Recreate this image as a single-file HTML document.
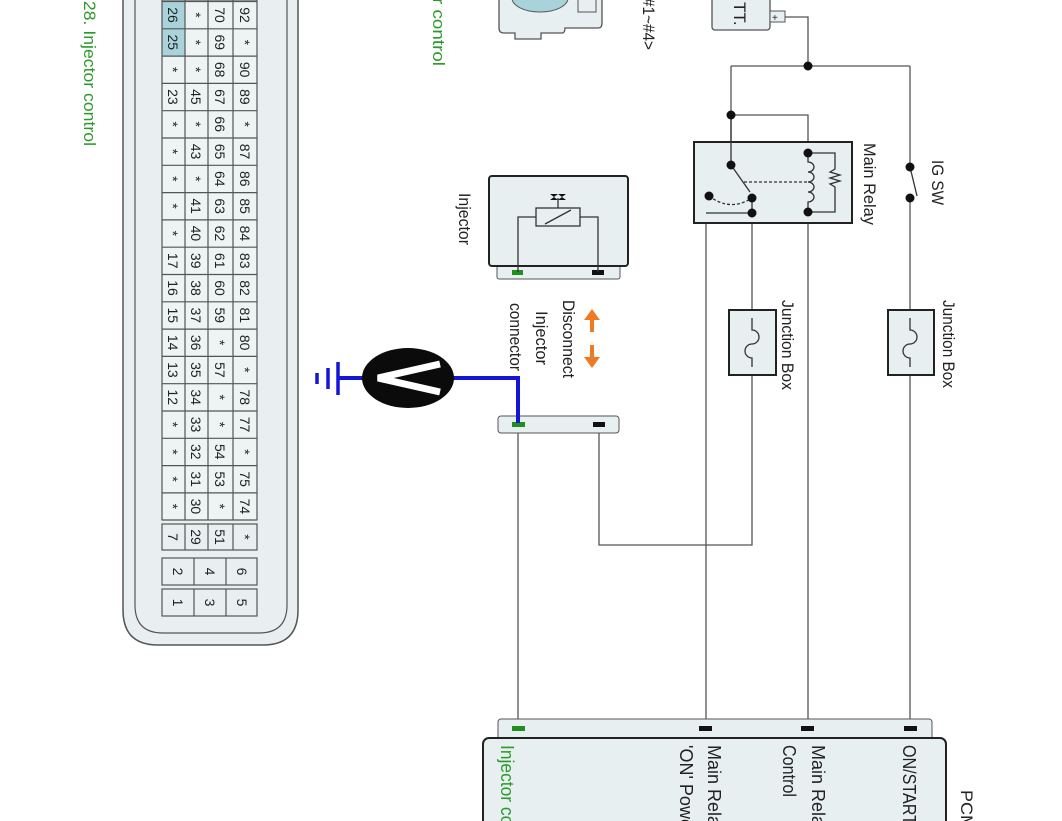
<!DOCTYPE html>
<html><head><meta charset="utf-8"><style>
html,body{margin:0;padding:0;background:#fff;}
svg{display:block;font-family:"Liberation Sans",sans-serif;}
</style></head><body>
<svg width="1062" height="821" viewBox="0 0 1062 821" xmlns="http://www.w3.org/2000/svg">
<path d="M123,0 V610 Q123,645 158,645 H263 Q298,645 298,610 V0" fill="#e9eff1" stroke="#555" stroke-width="1.5"/>
<path d="M135,0 V605 Q135,633 163,633 H259 Q287,633 287,605 V0" fill="none" stroke="#555" stroke-width="1.2"/>
<rect x="162" y="0" width="95" height="520" fill="#eef3f4" stroke="#555"/>
<rect x="162" y="1.5" width="23" height="54.6" fill="#a9d3da"/>
<g stroke="#555" stroke-width="1.2" fill="none">
<path d="M162,0V520M185,0V520M208,0V520M233,0V520M257,0V520"/>
<path d="M162,1.5H257M162,28.8H257M162,56.1H257M162,83.4H257M162,110.7H257M162,138H257M162,165.3H257M162,192.6H257M162,219.9H257M162,247.2H257M162,274.5H257M162,301.8H257M162,329.1H257M162,356.4H257M162,383.7H257M162,411H257M162,438.3H257M162,465.6H257M162,492.9H257M162,520H257"/>
<rect x="162" y="524" width="95" height="26"/>
<path d="M185,524V550M208,524V550M233,524V550"/>
<rect x="162" y="558" width="95" height="27"/>
<path d="M194,558V585M226,558V585"/>
<rect x="162" y="589" width="95" height="27"/>
<path d="M194,589V616M226,589V616"/>
</g>
<g font-size="14" fill="#222" text-anchor="middle">
<g transform="translate(168,15) rotate(90)"><text>26</text></g><g transform="translate(191,15) rotate(90)"><text>*</text></g><g transform="translate(215,15) rotate(90)"><text>70</text></g><g transform="translate(240,15) rotate(90)"><text>92</text></g>
<g transform="translate(168,42.3) rotate(90)"><text>25</text></g><g transform="translate(191,42.3) rotate(90)"><text>*</text></g><g transform="translate(215,42.3) rotate(90)"><text>69</text></g><g transform="translate(240,42.3) rotate(90)"><text>*</text></g>
<g transform="translate(168,69.6) rotate(90)"><text>*</text></g><g transform="translate(191,69.6) rotate(90)"><text>*</text></g><g transform="translate(215,69.6) rotate(90)"><text>68</text></g><g transform="translate(240,69.6) rotate(90)"><text>90</text></g>
<g transform="translate(168,96.9) rotate(90)"><text>23</text></g><g transform="translate(191,96.9) rotate(90)"><text>45</text></g><g transform="translate(215,96.9) rotate(90)"><text>67</text></g><g transform="translate(240,96.9) rotate(90)"><text>89</text></g>
<g transform="translate(168,124.2) rotate(90)"><text>*</text></g><g transform="translate(191,124.2) rotate(90)"><text>*</text></g><g transform="translate(215,124.2) rotate(90)"><text>66</text></g><g transform="translate(240,124.2) rotate(90)"><text>*</text></g>
<g transform="translate(168,151.5) rotate(90)"><text>*</text></g><g transform="translate(191,151.5) rotate(90)"><text>43</text></g><g transform="translate(215,151.5) rotate(90)"><text>65</text></g><g transform="translate(240,151.5) rotate(90)"><text>87</text></g>
<g transform="translate(168,178.8) rotate(90)"><text>*</text></g><g transform="translate(191,178.8) rotate(90)"><text>*</text></g><g transform="translate(215,178.8) rotate(90)"><text>64</text></g><g transform="translate(240,178.8) rotate(90)"><text>86</text></g>
<g transform="translate(168,206.1) rotate(90)"><text>*</text></g><g transform="translate(191,206.1) rotate(90)"><text>41</text></g><g transform="translate(215,206.1) rotate(90)"><text>63</text></g><g transform="translate(240,206.1) rotate(90)"><text>85</text></g>
<g transform="translate(168,233.4) rotate(90)"><text>*</text></g><g transform="translate(191,233.4) rotate(90)"><text>40</text></g><g transform="translate(215,233.4) rotate(90)"><text>62</text></g><g transform="translate(240,233.4) rotate(90)"><text>84</text></g>
<g transform="translate(168,260.7) rotate(90)"><text>17</text></g><g transform="translate(191,260.7) rotate(90)"><text>39</text></g><g transform="translate(215,260.7) rotate(90)"><text>61</text></g><g transform="translate(240,260.7) rotate(90)"><text>83</text></g>
<g transform="translate(168,288) rotate(90)"><text>16</text></g><g transform="translate(191,288) rotate(90)"><text>38</text></g><g transform="translate(215,288) rotate(90)"><text>60</text></g><g transform="translate(240,288) rotate(90)"><text>82</text></g>
<g transform="translate(168,315.3) rotate(90)"><text>15</text></g><g transform="translate(191,315.3) rotate(90)"><text>37</text></g><g transform="translate(215,315.3) rotate(90)"><text>59</text></g><g transform="translate(240,315.3) rotate(90)"><text>81</text></g>
<g transform="translate(168,342.6) rotate(90)"><text>14</text></g><g transform="translate(191,342.6) rotate(90)"><text>36</text></g><g transform="translate(215,342.6) rotate(90)"><text>*</text></g><g transform="translate(240,342.6) rotate(90)"><text>80</text></g>
<g transform="translate(168,369.9) rotate(90)"><text>13</text></g><g transform="translate(191,369.9) rotate(90)"><text>35</text></g><g transform="translate(215,369.9) rotate(90)"><text>57</text></g><g transform="translate(240,369.9) rotate(90)"><text>*</text></g>
<g transform="translate(168,397.2) rotate(90)"><text>12</text></g><g transform="translate(191,397.2) rotate(90)"><text>34</text></g><g transform="translate(215,397.2) rotate(90)"><text>*</text></g><g transform="translate(240,397.2) rotate(90)"><text>78</text></g>
<g transform="translate(168,424.5) rotate(90)"><text>*</text></g><g transform="translate(191,424.5) rotate(90)"><text>33</text></g><g transform="translate(215,424.5) rotate(90)"><text>*</text></g><g transform="translate(240,424.5) rotate(90)"><text>77</text></g>
<g transform="translate(168,451.8) rotate(90)"><text>*</text></g><g transform="translate(191,451.8) rotate(90)"><text>32</text></g><g transform="translate(215,451.8) rotate(90)"><text>54</text></g><g transform="translate(240,451.8) rotate(90)"><text>*</text></g>
<g transform="translate(168,479.1) rotate(90)"><text>*</text></g><g transform="translate(191,479.1) rotate(90)"><text>31</text></g><g transform="translate(215,479.1) rotate(90)"><text>53</text></g><g transform="translate(240,479.1) rotate(90)"><text>75</text></g>
<g transform="translate(168,506.4) rotate(90)"><text>*</text></g><g transform="translate(191,506.4) rotate(90)"><text>30</text></g><g transform="translate(215,506.4) rotate(90)"><text>*</text></g><g transform="translate(240,506.4) rotate(90)"><text>74</text></g>
<g transform="translate(168,537) rotate(90)"><text>7</text></g><g transform="translate(191,537) rotate(90)"><text>29</text></g><g transform="translate(215,537) rotate(90)"><text>51</text></g><g transform="translate(240,537) rotate(90)"><text>*</text></g>
<g transform="translate(173,571.5) rotate(90)"><text>2</text></g><g transform="translate(205,571.5) rotate(90)"><text>4</text></g><g transform="translate(237,571.5) rotate(90)"><text>6</text></g>
<g transform="translate(173,602.5) rotate(90)"><text>1</text></g><g transform="translate(205,602.5) rotate(90)"><text>3</text></g><g transform="translate(237,602.5) rotate(90)"><text>5</text></g>
</g>

<g font-size="17">
<g transform="translate(84,-4) rotate(90)"><text fill="#2a9a2a" textLength="150" lengthAdjust="spacingAndGlyphs">.28. Injector control</text></g>
<g transform="translate(433,-2) rotate(90)"><text fill="#2a9a2a" textLength="68" lengthAdjust="spacingAndGlyphs">r control</text></g>
<g transform="translate(643,-2) rotate(90)"><text fill="#222" textLength="52" lengthAdjust="spacingAndGlyphs">#1~#4&gt;</text></g>
<g transform="translate(459,193) rotate(90)"><text fill="#222" textLength="52" lengthAdjust="spacingAndGlyphs">Injector</text></g>
<g transform="translate(563,300) rotate(90)"><text fill="#222" textLength="78" lengthAdjust="spacingAndGlyphs">Disconnect</text></g>
<g transform="translate(536,311) rotate(90)"><text fill="#222" textLength="54" lengthAdjust="spacingAndGlyphs">Injector</text></g>
<g transform="translate(510,303) rotate(90)"><text fill="#222" textLength="68" lengthAdjust="spacingAndGlyphs">connector</text></g>
<g transform="translate(782,300) rotate(90)"><text fill="#222" textLength="90" lengthAdjust="spacingAndGlyphs">Junction Box</text></g>
<g transform="translate(943,300) rotate(90)"><text fill="#222" textLength="88" lengthAdjust="spacingAndGlyphs">Junction Box</text></g>
<g transform="translate(864,143) rotate(90)"><text fill="#222" textLength="82" lengthAdjust="spacingAndGlyphs">Main Relay</text></g>
<g transform="translate(932,160) rotate(90)"><text fill="#222" textLength="45" lengthAdjust="spacingAndGlyphs">IG SW</text></g>
<g transform="translate(961,790) rotate(90)"><text fill="#222" textLength="40" lengthAdjust="spacingAndGlyphs">PCM</text></g>
</g>

<path d="M499,-2 V28 Q499,33 504,33 H515 V39 H541 V33 H562 Q565,33 565,28 H598 Q602,28 602,23 V-2" fill="#e8eff1" stroke="#555" stroke-width="1.3"/>
<ellipse cx="540" cy="-2" rx="28" ry="14" fill="#a9d3da" stroke="#555"/>
<rect x="578" y="-2" width="18" height="14" fill="none" stroke="#555"/>

<rect x="712" y="-5" width="58" height="35" rx="3" fill="#e8eff1" stroke="#555" stroke-width="1.3"/>
<g transform="translate(734,2) rotate(90)"><text font-size="17" fill="#222">TT.</text></g>
<rect x="770" y="11" width="15" height="11" fill="#e8eff1" stroke="#555"/>
<text x="772" y="21" font-size="10" fill="#222">+</text>

<g stroke="#555" stroke-width="1.3" fill="none">
<path d="M785,17 H808 V66"/>
<path d="M731,66 H910"/>
<path d="M731,66 V165"/>
<path d="M731,115 H808 V153"/>
<path d="M910,66 V167"/>
<path d="M910,198 V727"/>
<path d="M808,212 V727"/>
<path d="M752,213 H706 V727"/>
<path d="M752,198 V545 H599 V425"/>
<path d="M518,425 V727"/>
</g>

<rect x="694" y="142" width="158" height="81" fill="#e8eff1" stroke="#222" stroke-width="2"/>
<g stroke="#333" stroke-width="1.3" fill="none">
<path d="M731,115V165"/>
<path d="M731,165 L750,192"/>
<path d="M744,182 H808" stroke-dasharray="3,2"/>
<path d="M709,196 Q730,212 752,198" stroke-dasharray="3,2"/>
<path d="M752,198V213 H706"/>
<path d="M808,153 V162 a6,5 0 1 1 0,10 a6,5 0 1 1 0,10 a6,5 0 1 1 0,10 a6,5 0 1 1 0,10 V212"/>
<path d="M808,153 H835 V169 l-5,3 l10,3 l-10,3 l10,3 l-10,3 l5,3 V212 H808"/>
<path d="M910,167 L917,196"/>
</g>
<g fill="#111">
<circle cx="808" cy="66" r="4.5"/><circle cx="731" cy="115" r="4.5"/>
<circle cx="731" cy="165" r="4.5"/><circle cx="752" cy="198" r="4.5"/><circle cx="752" cy="213" r="4.5"/>
<circle cx="709" cy="196" r="4.5"/><circle cx="808" cy="153" r="4.5"/><circle cx="808" cy="212" r="4.5"/>
<circle cx="910" cy="167" r="4.5"/><circle cx="910" cy="198" r="4.5"/>
</g>

<rect x="729" y="310" width="47" height="65" fill="#e8eff1" stroke="#222" stroke-width="2"/>
<path d="M752,318 V330 a7,7 0 0 1 0,14 a7,7 0 0 0 0,14 V367" fill="none" stroke="#333" stroke-width="1.3"/>
<rect x="888" y="310" width="46" height="65" fill="#e8eff1" stroke="#222" stroke-width="2"/>
<path d="M910,318 V330 a7,7 0 0 1 0,14 a7,7 0 0 0 0,14 V367" fill="none" stroke="#333" stroke-width="1.3"/>

<rect x="497" y="263" width="123" height="16" rx="2" fill="#e8eff1" stroke="#555"/>
<rect x="489" y="176" width="139" height="90" rx="3" fill="#e8eff1" stroke="#222" stroke-width="2"/>
<rect x="512" y="270" width="11" height="5" fill="#1f8f1f"/>
<rect x="592" y="270" width="12" height="5" fill="#111"/>
<g stroke="#333" stroke-width="1.3" fill="none">
<path d="M518,272 V217 H536"/>
<path d="M598,272 V217 H580"/>
<rect x="536" y="208" width="44" height="18" fill="#e8eff1"/>
<path d="M545,224 L571,210"/>
<path d="M558,208 V198"/>
</g>
<path d="M550,194 L566,194 L558,200 Z M550,200 L566,200 L558,194 Z" fill="#111"/>

<rect x="498" y="416" width="121" height="17" rx="3" fill="#e8eff1" stroke="#555"/>
<rect x="512" y="422" width="13" height="5" fill="#1f8f1f"/>
<rect x="593" y="422" width="12" height="5" fill="#111"/>

<path d="M518,423 V378 H450 M365,378 H338" stroke="#1515d8" stroke-width="4" fill="none"/>
<path d="M338,362 V395 M328,368 V389 M317,373 V384" stroke="#1515d8" stroke-width="3.5"/>
<ellipse cx="408" cy="378" rx="46" ry="30" fill="#0b0b0b"/>
<path d="M440,364 L378,378 L440,392" stroke="#fff" stroke-width="7" fill="none" stroke-linejoin="miter"/>

<g stroke="#f07a22" stroke-width="4" fill="#f07a22">
<path d="M592,318 V332 M592,345 V360" fill="none"/>
<path d="M584,320 L592,309 L600,320 Z" stroke="none"/>
<path d="M584,357 L592,368 L600,357 Z" stroke="none"/>
</g>

<rect x="498" y="719" width="434" height="22" rx="3" fill="#e8eff1" stroke="#555"/>
<rect x="483" y="738" width="463" height="100" rx="6" fill="#e8eff1" stroke="#222" stroke-width="2"/>
<rect x="512" y="726" width="13" height="5" fill="#1f8f1f"/>
<rect x="699" y="726" width="13" height="5" fill="#111"/>
<rect x="801" y="726" width="13" height="5" fill="#111"/>
<rect x="904" y="726" width="13" height="5" fill="#111"/>

<g font-size="18">
<g transform="translate(903,745) rotate(90)"><text fill="#222" textLength="80" lengthAdjust="spacingAndGlyphs">ON/START</text></g>
<g transform="translate(812,745) rotate(90)"><text fill="#222" textLength="90" lengthAdjust="spacingAndGlyphs">Main Relay</text></g>
<g transform="translate(783,745) rotate(90)"><text fill="#222" textLength="52" lengthAdjust="spacingAndGlyphs">Control</text></g>
<g transform="translate(708,745) rotate(90)"><text fill="#222" textLength="90" lengthAdjust="spacingAndGlyphs">Main Relay</text></g>
<g transform="translate(680,745) rotate(90)"><text fill="#222" textLength="90" lengthAdjust="spacingAndGlyphs">'ON' Power</text></g>
<g transform="translate(501,745) rotate(90)"><text fill="#2a9a2a" textLength="90" lengthAdjust="spacingAndGlyphs">Injector con</text></g>
</g>
</svg>
</body></html>
